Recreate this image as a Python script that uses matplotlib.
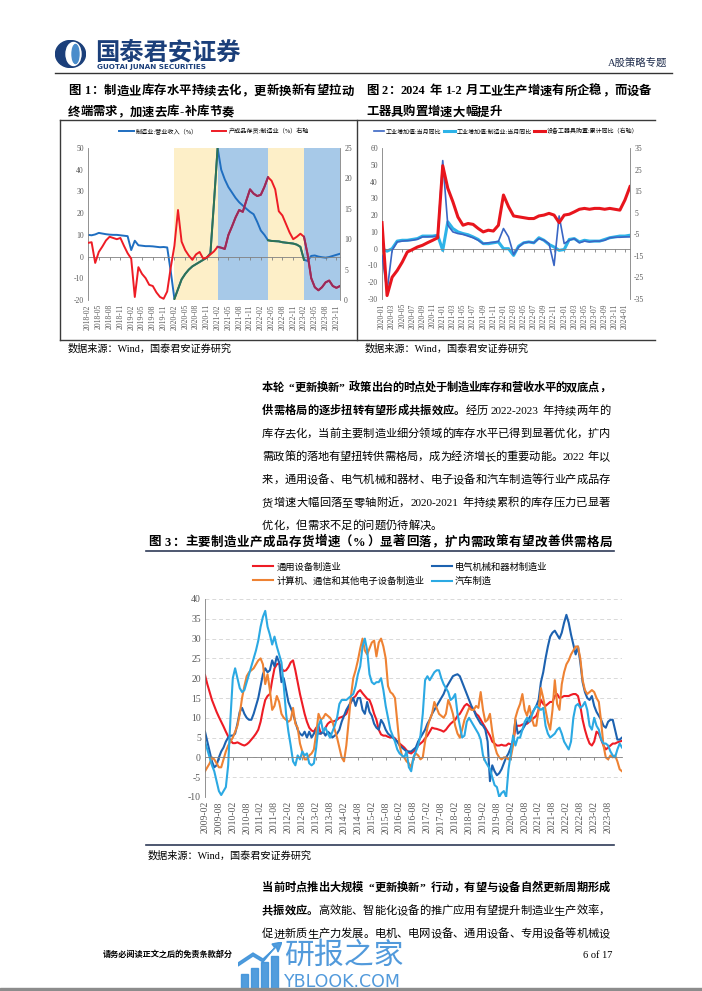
import numpy as np
import pandas as pd
import matplotlib
matplotlib.use("Agg")
import matplotlib.pyplot as plt
from matplotlib.lines import Line2D
from matplotlib.patches import Ellipse, Rectangle, Polygon

# ---------------- data ----------------
# figure 1: manufacturing revenue (left axis) vs finished-goods inventory (right axis)
fig1_months = pd.period_range("2018-02", "2023-12", freq="M").strftime("%Y-%m").tolist()
fig1_revenue = [10, 9.8, 10.2, 10.9, 10.6, 10.3, 10.1, 10, 10, 9.8,
                9.6, 9.4, 3.0, 7.3, 5.2, 5.0, 4.8, 4.8, 4.7, 4.5,
                4.3, 4.4, 4.2, -7, -19.5, -15, -10.5, -8, -6, -4.5,
                -3.5, -2.5, -1.5, -0.5, 1.5, 25, 50, 40, 35.5, 32,
                29.5, 27, 25, 23.5, 22, 20.6, 19.5, 16, 12, 10,
                7.5, 7.2, 7.1, 7.0, 6.6, 6.4, 6.2, 6.0, 5.5, 4.5,
                -1.5, -2, 0.3, 0.5, 0, -0.3, -0.5, -0.2, 0.3, 0.8, 1.3]
fig1_inventory = [9.4, 9.5, 6.1, 7.9, 8.8, 9.8, 10.4, 10.2, 10.0, 10.2,
                  8.9, 7.7, 6.8, 0.5, 5.4, 4.3, 3.6, 2.5, 2.3, 1.25,
                  0.5, 0.2, 1.4, 5.4, 8.9, 14.8, 9.6, 8.2, 7.3, 6.6,
                  7.5, 7.9, 6.8, 7.0, 7.5, 8.0, 8.75, 8.6, 8.4, 10.7,
                  12.1, 13.6, 14.8, 14.5, 16.4, 18.2, 17.5, 17.1, 17.3, 18.6,
                  20.2, 19.6, 18.2, 14.6, 13.9, 12.5, 11.1, 10.0, 10.4, 10.9,
                  10.4, 7.5, 3.6, 2.1, 1.6, 2.1, 2.9, 3.2, 2.3, 2.0, 2.3]
fig1_phases = [("2020-02", "2021-02"), ("2021-02", "2022-04"),
               ("2022-04", "2023-02"), ("2023-02", "2023-12")]

# figure 2: industrial value added (left) and equipment purchase (right)
fig2_months = pd.period_range("2020-01", "2024-02", freq="M").strftime("%Y-%m").tolist()
fig2_iva = [-4, -25.5, -1, 4, 4.5, 4.8, 5, 5.6, 7, 7,
            7.2, 7.5, 52.5, 14, 10, 9, 8.5, 7.5, 6.5, 5,
            3, 3.5, 3.8, 4.3, 12, 7, -3.5, 1, 3.5, 4,
            3.5, 6, 5, 3, -10, 19.5, 3, 5, 6, 3.5,
            4.5, 4, 4.5, 4.5, 5, 6.5, 6.8, 6.8, 7, 7]
fig2_iva_mfg = [0, -1.5, 0, 4.5, 5, 5, 5.5, 6, 7.5, 7.5,
                7.5, 8, -1, 16, 12, 10, 9, 8.3, 7, 5.5,
                3, 3, 3.5, 4, 0, 0, -4, 1.5, 3.5, 4,
                3.5, 6.5, 5, 2.5, 1, -1, -0.5, 5.5, 6, 4,
                5, 4.5, 4.5, 4.5, 5.5, 6.5, 7, 7.5, 7.5, 8]
fig2_equip = [0.4, -33.4, -24.9, -21.8, -17.9, -13.2, -12.1, -10.9, -10.1, -8.9,
              -7.8, -6.6, 26.8, 16.3, 10.1, 3, -0.8, 0, -0.4, -2.3,
              -3.9, -3.1, -3.5, -0.8, 13.2, 7.8, 3.5, 3.1, 2.7, 2.3,
              2.3, 3.5, 3.9, 4.7, 3.9, 0.4, 3.9, 4.3, 5.4, 6.6,
              7.0, 6.6, 7.0, 7.0, 6.6, 7.0, 6.6, 6.2, 10.9, 17.1]

# figure 3: finished-goods inventory growth by industry
fig3_months = pd.period_range("2009-02", "2024-02", freq="M").strftime("%Y-%m").tolist()
fig3_general = [20.8, 18.5, 16.5, 14.5, 13, 11.5, 10.2, 9, 7.8, 6.5,
                5.3, 4.3, 3.6, 3.6, 3.8, 3.5, 3.2, 3.0, 3.3, 3.8,
                4.5, 5.2, 6.0, 7.0, 9.0, 12.0, 14.5, 15.5, 16.0, 19.5,
                22.5, 23.5, 23.8, 22.5, 21.8, 22.0, 22.8, 24.0, 24.5, 22.0,
                19.0, 16.0, 13.5, 11.0, 9.0, 7.5, 6.8, 6.5, 7.5, 8.0,
                6.0, 6.5, 7.5, 8.5, 9.0, 9.0, 9.2, 9.5, 10.0, 10.2,
                10.5, 11.0, 12.5, 14.0, 15.0, 15.5, 16.5, 17.0, 16.2, 15.5,
                14.8, 14.5, 13.0, 11.0, 9.5, 7.0, 5.8, 5.5, 5.5, 5.2,
                5.0, 5.2, 4.8, 4.0, 3.5, 3.0, 2.5, 1.8, 1.2, 1.0,
                1.5, 2.0, 3.0, 3.5, 4.0, 4.8, 5.5, 6.5, 7.5, 7.3,
                7.2, 7.0, 6.8, 6.5, 7.0, 7.8, 8.5, 9.0, 9.5, 10.5,
                11.0, 12.0, 13.0, 13.5, 13.0, 12.5, 12.0, 11.0, 10.5, 9.5,
                8.5, 7.5, 6.5, 5.5, 4.0, 3.5, 3.0, 3.0, 3.2, 3.0,
                3.0, 3.5, 3.3, 3.5, 7.5, 8.0, 8.0, 8.3, 8.5, 8.5,
                9.0, 9.5, 10.0, 10.5, 12.0, 14.5, 13.5, 13.0, 13.5, 14.0,
                14.0, 15.5, 16.0, 15.0, 15.2, 15.5, 15.5, 15.5, 15.8, 16.0,
                16.0, 15.5, 13.0, 9.5, 7.0, 5.0, 3.5, 3.0, 4.0, 6.5,
                6.0, 4.5, 3.0, 2.0, 2.5, 3.0, 3.5, 3.5, 3.8, 4.0,
                4.2]
fig3_electrical = [6.5, 4, 1.5, -1, -2.5, -2, 0, 1.5, 2.5, 4,
                   5, 5.5, 5.5, 6, 8.5, 11.5, 12.5, 11, 10, 9.5,
                   9.5, 11, 13, 15, 18, 21, 22.5, 21.5, 22, 24.5,
                   23, 25.5, 24, 19, 20, 17, 14, 12.5, 11, 9,
                   7, 6, 5.5, 6.5, 5, 6.5, 5, 6, 7, 6,
                   6, 6.5, 5.5, 6.5, 6, 5, 5.5, 6, 7, 9,
                   10.5, 12, 13, 14, 15, 13, 15, 15, 12, 11,
                   14, 11.5, 10.5, 8.5, 7.5, 7, 9.5, 8.5, 7, 6,
                   5.5, 5, 4.5, 4, 3, 2.5, 2, 1.5, 1.5, 1.5,
                   2, 2.5, 4, 5, 6, 7, 8.5, 9.5, 11, 12,
                   13, 14, 15, 16, 17.5, 18.5, 19.5, 20.5, 20.8, 21,
                   20.5, 19, 17.5, 16, 14.5, 13, 12, 10.5, 9.5, 8.5,
                   8, 7, 4, -6, -2, -3.5, -4.5, -4, -3, -1.5,
                   0, 1, 2.5, 4.5, 9.5, 6, 6.5, 7, 8, 9,
                   10, 11, 12, 13, 14.5, 19, 21.5, 25, 28, 30.5,
                   31.5, 32, 31, 30, 31.5, 34, 36, 34, 31, 28.5,
                   26, 28, 24, 19, 16.5, 15, 14.5, 15.5, 13, 11.5,
                   10.5, 9.5, 8, 7.5, 9, 9.5, 9.5, 7, 4.5, 4.5,
                   5]
fig3_electronics = [-3.5, -2.5, -1.5, 0, -0.5, -1.5, -2.5, -2.5, -0.5, 1.5,
                    3, 4, 5, 6.5, 8, 11, 15, 18, 20.5, 21.5,
                    22, 22.5, 23.5, 24.5, 25, 23.5, 18.5, 21, 17, 12,
                    13, 15.5, 14, 11, 10, 9.5, 9, 9.5, 12.5, 8.5,
                    7.5, 3.5, 1.5, -0.5, -0.5, 0.5, 1, 2, 6, 11,
                    9.5, 10, 11, 10.5, 10, 9, 7, 5, 2.5, 0,
                    -1, 3, 9, 15.5, 20, 22, 24.5, 27.5, 30, 27,
                    26, 27.5, 29, 29.5, 25.5, 29, 30, 28, 25, 18,
                    16.5, 16, 15, 9, 3, 0.5, 0, -1, -1.5, -2.5,
                    0, 1, 0.5, -0.5, 0, 4, 7.5, 9.5, 11, 14,
                    12.5, 11, 10.5, 10, 11, 14.5, 13, 11, 8, 6,
                    5, 7, 9.5, 11, 12.5, 12, 12, 13, 12.5, 16.5,
                    12, 9, 9.5, 11, 6.5, 3, 1, 0, -0.5, 0,
                    0, -0.5, 0, 3, 10, 12, 13.5, 16, 12, 10.5,
                    13, 10, 8, 8, 12, 17.5, 15, 12, 9, 7,
                    12, 19.5, 13.5, 12, 18.5, 21.5, 23.5, 24.5, 26, 27,
                    28, 28, 25, 19.5, 17, 16, 16.5, 17, 16.5, 15,
                    14, 9, 3, 0, -0.5, 0.5, 0, 0.5, -1, -3,
                    -3.5]
fig3_auto = [4, 2, 0, -2, -3.5, -6, -8.5, -9.5, -8.5, -7.5,
             -2, 10, 20, 22.5, 20, 17.5, 16.5, 17, 19, 21,
             23, 25, 27, 29.5, 33, 35.5, 37, 33, 31, 28.5,
             30.5, 28, 26, 24, 18, 11, 6.5, 3, -1, -2,
             0.5, -0.5, 1.5, 0.5, 1, -1.5, -2, -1.5, 2.5, 8,
             9.5, 6.5, 7.5, 6, 5, 6.5, 8, 10, 13.5, 14.5,
             14.5, 14.5, 15, 15.5, 16, 18, 21, 23, 28, 30,
             27, 21, 19, 18.5, 19, 19, 20, 17, 13, 10,
             7, 5.5, 4, 2, 1, 0.5, 0, 1.5, -2.5, -3.5,
             0, 1.5, 3, 5.5, 11, 19.5, 20.5, 19.5, 20.5, 21.5,
             22, 22, 20, 18.5, 17.5, 16.5, 14.5, 15, 16, 11,
             8, 5, 5.5, 9, 10, 9, 8, 7, 6, 4.5,
             0.5, -1, -2, -3, -5, -7, -7.5, -10, -9, -8.5,
             -10, -3, 1, 5.5, 3, 5, 5, 7, 9, 10,
             9, 10.5, 12, 13, 12.5, 12, 12.5, 8, 6, 5,
             5.5, 6, 7, 7.5, 6, 4, 3, 2, 4, 10,
             13, 13.5, 12.5, 13, 14, 12, 8, 7, 10, 8,
             7, 4.5, 3.5, 3.5, 3, 1.5, 0.5, 0, 2, 3.5,
             2.5]

# page text
para1 = [
    [("本轮“更新换新”政策出台的时点处于制造业库存和营收水平的双底点，", True)],
    [("供需格局的逐步扭转有望形成共振效应。", True), ("经历 2022-2023 年持续两年的", False)],
    [("库存去化，当前主要制造业细分领域的库存水平已得到显著优化，扩内", False)],
    [("需政策的落地有望扭转供需格局，成为经济增长的重要动能。2022 年以", False)],
    [("来，通用设备、电气机械和器材、电子设备和汽车制造等行业产成品存", False)],
    [("货增速大幅回落至零轴附近，2020-2021 年持续累积的库存压力已显著", False)],
    [("优化，但需求不足的问题仍待解决。", False)],
]
para2 = [
    [("当前时点推出大规模“更新换新”行动，有望与设备自然更新周期形成", True)],
    [("共振效应。", True), ("高效能、智能化设备的推广应用有望提升制造业生产效率，", False)],
    [("促进新质生产力发展。电机、电网设备、通用设备、专用设备等机械设", False)],
]
source = "数据来源：Wind，国泰君安证券研究"

# ---------------- style ----------------
W, H = 702, 991
plt.rcParams["font.family"] = ["Liberation Serif", "Noto Sans CJK SC"]
plt.rcParams["axes.unicode_minus"] = False
NAVY = "#1B3F7A"
GRAY = "#808080"
TICK = "#595959"
RULE = "#3a3a3a"
SHADE_YELLOW = "#FDEFC8"
SHADE_BLUE = "#A7C9E8"


def px_box(l, t, r, b):
    return [l / W, 1 - b / H, (r - l) / W, (b - t) / H]


fig = plt.figure(figsize=(W / 100, H / 100), dpi=100)
renderer = fig.canvas.get_renderer()


def put(x, y, s, **kw):
    return fig.text(x / W, 1 - y / H, s, **kw)


def hline(y, x0, x1, lw=1.0, color=RULE):
    fig.add_artist(Line2D([x0 / W, x1 / W], [1 - y / H] * 2, lw=lw, color=color))


def vline(x, y0, y1, lw=1.0, color=RULE):
    fig.add_artist(Line2D([x / W] * 2, [1 - y0 / H, 1 - y1 / H], lw=lw, color=color))


def width_px(s, size, weight):
    t = fig.text(0, 0, s, fontsize=size, fontweight=weight)
    w = t.get_window_extent(renderer).width
    t.remove()
    return w


def split_tokens(s):
    toks, buf = [], ""
    for ch in s:
        if ch == " ":
            if buf:
                toks.append(buf)
                buf = ""
            toks.append(" ")
        elif ord(ch) < 128:
            buf += ch
        else:
            if buf:
                toks.append(buf)
                buf = ""
            toks.append(ch)
    if buf:
        toks.append(buf)
    return toks


def text_line(x0, x1, y, segs, size, justify=True):
    # draw one line of mixed bold/regular text, spread to x0..x1
    em = size * 100 / 72
    items = []
    for s, bold in segs:
        for tok in split_tokens(s):
            items.append((tok, "bold" if bold else "normal"))
    widths = []
    for tok, wt in items:
        if tok == " ":
            widths.append(0.25 * em)
        elif ord(tok[0]) >= 128:
            widths.append(em)
        else:
            widths.append(width_px(tok, size, wt) + 0.08 * em)
    gap = 0
    if justify and len(items) > 1:
        gap = (x1 - x0 - sum(widths)) / (len(items) - 1)
    x = x0
    base = y + 0.36 * em
    for (tok, wt), w in zip(items, widths):
        if tok == "“":
            put(x + 0.95 * em, base, tok, fontsize=size, fontweight=wt, va="baseline", ha="right")
        elif tok != " ":
            put(x, base, tok, fontsize=size, fontweight=wt, va="baseline", ha="left")
        x += w + gap


def style_axes(ax, ticks, labels, size):
    ax.spines["top"].set_visible(False)
    ax.spines["right"].set_visible(False)
    ax.spines["left"].set_color(GRAY)
    ax.spines["left"].set_linewidth(0.6)
    ax.spines["bottom"].set_position(("data", 0))
    ax.spines["bottom"].set_color(GRAY)
    ax.spines["bottom"].set_linewidth(0.6)
    ax.set_xticks(ticks)
    ax.tick_params(axis="x", length=2, width=0.6, color=GRAY, labelbottom=False)
    ax.tick_params(axis="y", length=0, labelsize=size, labelcolor=TICK, pad=3)
    sec = ax.secondary_xaxis("bottom")
    sec.set_xticks(ticks, labels=labels)
    sec.tick_params(length=0, labelsize=size, labelcolor=TICK, labelrotation=90, pad=3)
    sec.spines["bottom"].set_visible(False)
    ax.patch.set_alpha(0)


# ---------------- header ----------------
logo = fig.add_axes(px_box(55, 40, 86, 68))
logo.set_xlim(-15.5, 15.5)
logo.set_ylim(-14, 14)
logo.set_aspect("equal")
logo.axis("off")
logo.add_patch(Ellipse((0, 0), 30, 27, color=NAVY))
logo.add_patch(Ellipse((3, 0), 15, 23, color="white"))
logo.add_patch(Ellipse((5, 0), 7, 19, color="#4A8CCB"))
put(95, 52, "国泰君安证券", fontsize=17.5, fontweight="bold", color=NAVY, va="center",
    family="Noto Sans CJK SC")
put(97, 67, "GUOTAI JUNAN SECURITIES", fontsize=5.2, fontweight="bold", color=NAVY,
    va="center", family="DejaVu Sans")
put(667, 64, "A股策略专题", fontsize=7.5, color="#1F2D4D", va="center", ha="right")
hline(73, 55, 672, 1.0, "#333333")

# ---------------- figure 1 & 2 titles / frame ----------------
text_line(68, 354, 90, [("图 1：制造业库存水平持续去化，更新换新有望拉动", True)], 8.9)
text_line(68, 354, 111, [("终端需求，加速去库-补库节奏", True)], 8.9, justify=False)
text_line(366, 651, 90, [("图 2：2024 年 1-2 月工业生产增速有所企稳，而设备", True)], 8.9)
text_line(366, 651, 111, [("工器具购置增速大幅提升", True)], 8.9, justify=False)
hline(120, 60, 655)
hline(340, 60, 655)
vline(60, 120, 340)
vline(357, 120, 340)
put(68, 349, source, fontsize=7.3, va="center")
put(365, 349, source, fontsize=7.3, va="center")

# ---------------- figure 1 ----------------
x1 = np.arange(len(fig1_months))
ax1 = fig.add_axes(px_box(88, 148, 340, 300))
phase_colors = [SHADE_YELLOW, SHADE_BLUE, SHADE_YELLOW, SHADE_BLUE]
spans = [(fig1_months.index(a), fig1_months.index(b)) for a, b in fig1_phases]
for (a, b), c in zip(spans, phase_colors):
    ax1.axvspan(a, b, color=c, lw=0, zorder=0)
ax1.plot(x1, fig1_revenue, color="#1F6EC0", lw=1.4, zorder=2)
rev = np.array(fig1_revenue)
for (a, b), c in zip(spans, phase_colors):
    if c == SHADE_YELLOW:
        ax1.plot(x1[a:b + 1], rev[a:b + 1], color="#2F7352", lw=1.4, zorder=3)
ax1.set_xlim(0, len(x1) - 1)
ax1.set_ylim(-20, 50)
ax1.set_yticks(range(-20, 51, 10))
style_axes(ax1, x1[::3], fig1_months[::3], 5.5)

ax1r = ax1.twinx()
inv = np.array(fig1_inventory)
ax1r.plot(x1, inv, color="#EE1C25", lw=1.4, zorder=2)
for (a, b), c in zip(spans, phase_colors):
    if c == SHADE_BLUE:
        ax1r.plot(x1[a:b + 1], inv[a:b + 1], color="#962B5E", lw=1.4, zorder=3)
ax1r.set_ylim(0, 25)
ax1r.set_yticks(range(0, 26, 5))
for s in ("top", "left", "bottom"):
    ax1r.spines[s].set_visible(False)
ax1r.spines["right"].set_color(GRAY)
ax1r.spines["right"].set_linewidth(0.6)
ax1r.tick_params(axis="y", length=0, labelsize=5.5, labelcolor=TICK, pad=3)
ax1r.legend(handles=[Line2D([], [], color="#1F6EC0", lw=1.4), Line2D([], [], color="#EE1C25", lw=1.4)],
            labels=["制造业:营业收入（%）", "产成品存货:制造业（%）右轴"],
            loc="center", bbox_to_anchor=(0.5, 1.11), ncol=2, frameon=False, fontsize=4.4,
            handlelength=2.4, handletextpad=0.4, columnspacing=2.2, borderpad=0, borderaxespad=0)

# ---------------- figure 2 ----------------
x2 = np.arange(len(fig2_months))
ax2 = fig.add_axes(px_box(382, 148, 630, 299))
h_iva, = ax2.plot(x2, fig2_iva, color="#3A66C4", lw=1.2, zorder=3)
h_mfg, = ax2.plot(x2, fig2_iva_mfg, color="#2DB3E8", lw=2.2, zorder=2)
ax2.set_xlim(0, len(x2) - 1)
ax2.set_ylim(-30, 60)
ax2.set_yticks(range(-30, 61, 10))
style_axes(ax2, x2[::2], fig2_months[::2], 5.5)
ax2r = ax2.twinx()
h_eq, = ax2r.plot(x2, fig2_equip, color="#E8151D", lw=2.2)
ax2r.set_ylim(-35, 35)
ax2r.set_yticks(range(-35, 36, 10))
for s in ("top", "left", "bottom"):
    ax2r.spines[s].set_visible(False)
ax2r.spines["right"].set_color(GRAY)
ax2r.spines["right"].set_linewidth(0.6)
ax2r.tick_params(axis="y", length=0, labelsize=5.5, labelcolor=TICK, pad=3)
ax2r.legend(handles=[h_iva, h_mfg, h_eq],
            labels=["工业增加值:当月同比", "工业增加值:制造业:当月同比", "设备工器具购置:累计同比（右轴）"],
            loc="center", bbox_to_anchor=(0.5, 1.11), ncol=3, frameon=False, fontsize=4.3,
            handlelength=1.8, handletextpad=0.3, columnspacing=0.4, borderpad=0, borderaxespad=0)

# ---------------- body paragraph 1 ----------------
for k, segs in enumerate(para1):
    text_line(262, 610, 387 + 23 * k, segs, 8.1, justify=(k < len(para1) - 1))

# ---------------- figure 3 ----------------
text_line(148, 612, 541, [("图 3：主要制造业产成品存货增速（%）显著回落，扩内需政策有望改善供需格局", True)], 9.0)
hline(551, 146, 614, 1.2, "#2F3B57")
hline(845, 146, 614, 1.2, "#2F3B57")

x3 = np.arange(len(fig3_months))
ax3 = fig.add_axes(px_box(205, 599, 622, 797))
ax3.yaxis.grid(True, ls=(0, (4, 3)), color="#D9D9D9", lw=0.7, zorder=0)
h1, = ax3.plot(x3, fig3_general, color="#EE1C25", lw=1.5)
h2, = ax3.plot(x3, fig3_electrical, color="#1D62B0", lw=1.5)
h3, = ax3.plot(x3, fig3_electronics, color="#EE8233", lw=1.5)
h4, = ax3.plot(x3, fig3_auto, color="#2BA9E3", lw=1.5)
ax3.set_xlim(0, len(x3) - 1)
ax3.set_ylim(-10, 40)
ax3.set_yticks(range(-10, 41, 5))
style_axes(ax3, x3[:-1:6], fig3_months[:-1:6], 7)
ax3.legend(handles=[h1, h3, h2, h4],
           labels=["通用设备制造业", "计算机、通信和其他电子设备制造业", "电气机械和器材制造业", "汽车制造"],
           loc="center left", bbox_to_anchor=(253 / W, 1 - 574 / H), bbox_transform=fig.transFigure,
           ncol=2, frameon=False, fontsize=6.7, handlelength=2.2, handletextpad=0.3,
           columnspacing=0.8, labelspacing=0.55, borderpad=0, borderaxespad=0)
put(148, 856, source, fontsize=7.3, va="center")

# ---------------- body paragraph 2 ----------------
for k, segs in enumerate(para2):
    text_line(262, 610, 887 + 23 * k, segs, 8.1)

# ---------------- footer ----------------
put(103, 955, "请务必阅读正文之后的免责条款部分", fontsize=5.9, fontweight="bold", va="center")
put(583, 955, "6 of 17", fontsize=7.5, va="center")

icon = fig.add_axes(px_box(238, 942, 282, 990))
icon.set_xlim(0, 44)
icon.set_ylim(0, 48)
icon.axis("off")
for bx, bh in zip([3, 13, 23, 33], [16, 22, 28, 34]):
    icon.add_patch(Rectangle((bx, 0), 7, bh, color="#3F93DA", alpha=0.9))
icon.add_patch(Polygon([[0, 24], [15, 34], [25, 28], [38, 44], [40, 38], [44, 48], [34, 46],
                        [37, 42], [25, 31], [15, 37], [0, 27]], color="#3F93DA", alpha=0.9))
put(284, 955, "研报之家", fontsize=21.5, color="#3F8FD8", va="center", family="Noto Sans CJK SC",
    alpha=0.9)
put(284, 982, "YBLOOK.COM", fontsize=12.5, color="#3F8FD8", va="center", family="DejaVu Sans",
    alpha=0.9)
fig.add_artist(Rectangle((0, 0), 1, 3 / H, transform=fig.transFigure, color="#8c8c8c"))

fig.savefig("out.png", dpi=100)
